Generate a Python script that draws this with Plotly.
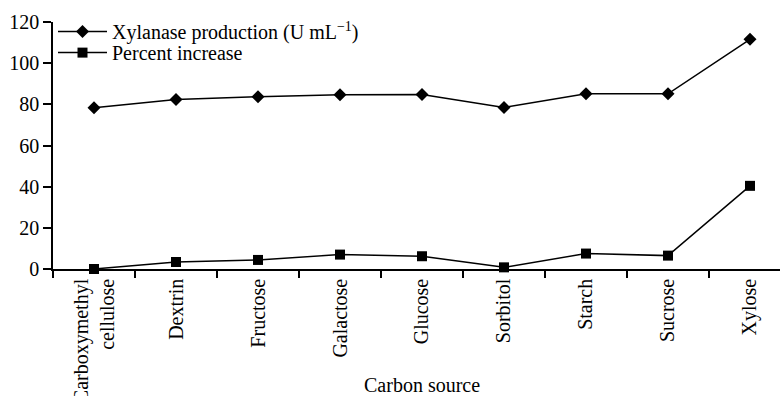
import plotly.graph_objects as go

# Carbon sources tested
carbon_sources = [
    "Carboxymethyl<br>cellulose", "Dextrin", "Fructose", "Galactose",
    "Glucose", "Sorbitol", "Starch", "Sucrose", "Xylose",
]
# Xylanase production (U mL-1)
xylanase = [78.3, 82.4, 83.7, 84.6, 84.8, 78.5, 85.1, 85.1, 111.6]
# Percent increase
percent_increase = [0.0, 3.4, 4.4, 7.0, 6.2, 0.8, 7.5, 6.5, 40.4]

y_ticks = [0, 20, 40, 60, 80, 100, 120]

FONT = "Liberation Serif, Times New Roman, serif"
FS = 20

fig = go.Figure()
fig.add_trace(go.Scatter(
    x=carbon_sources, y=xylanase, mode="lines+markers",
    name="Xylanase production (U mL<sup>\u22121</sup>)",
    line=dict(color="black", width=1.5),
    marker=dict(symbol="diamond", size=10, color="black"),
    cliponaxis=False, legend="legend",
))
fig.add_trace(go.Scatter(
    x=carbon_sources, y=percent_increase, mode="lines+markers",
    name="Percent increase",
    line=dict(color="black", width=1.5),
    marker=dict(symbol="square", size=10, color="black"),
    cliponaxis=False, legend="legend2",
))

legend_style = dict(
    x=0.0, xanchor="left", yanchor="top",
    bgcolor="rgba(0,0,0,0)", borderwidth=0,
    font=dict(family=FONT, size=FS, color="black"),
    itemwidth=49,
)

fig.update_layout(
    width=780, height=396,
    margin=dict(l=53, r=0, t=22, b=127, pad=0),
    paper_bgcolor="white", plot_bgcolor="white",
    font=dict(family=FONT, size=FS, color="black"),
    showlegend=True,
    legend=dict(y=1.04, **legend_style),
    legend2=dict(y=0.955, **legend_style),
    xaxis=dict(
        type="category", categoryorder="array", categoryarray=carbon_sources,
        range=[-0.5, 8.366], tickson="boundaries", automargin=False,
        showline=True, linecolor="black", linewidth=1.5,
        ticks="outside", ticklen=7, tickwidth=1.5, tickcolor="black",
        tickangle=-90, showgrid=False, zeroline=False,
        tickfont=dict(family=FONT, size=FS, color="black"),
    ),
    yaxis=dict(
        range=[0, 120], tickvals=y_ticks, automargin=False,
        showline=True, linecolor="black", linewidth=1.5,
        ticks="outside", ticklen=8, tickwidth=1.5, tickcolor="black",
        showgrid=False, zeroline=False,
        tickfont=dict(family=FONT, size=FS, color="black"),
    ),
    annotations=[dict(
        x=4, y=0, xref="x", yref="paper", yshift=-116,
        text="Carbon source", showarrow=False,
        xanchor="center", yanchor="middle",
        font=dict(family=FONT, size=FS, color="black"),
    )],
)

fig.write_html("out.html")
